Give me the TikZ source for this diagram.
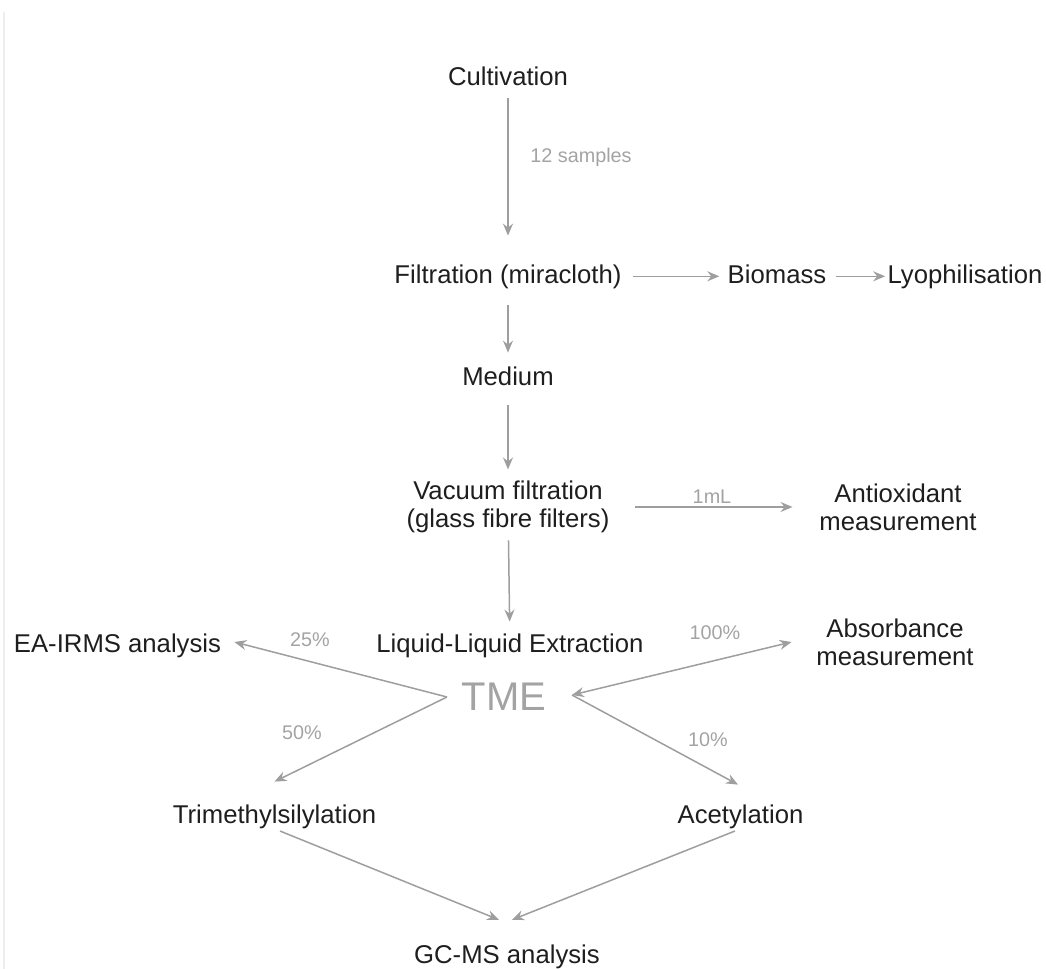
\documentclass[tikz,border=0pt]{standalone}
\usepackage{fontspec}
\setmainfont{Liberation Sans}
\usepackage{tikz}
\usetikzlibrary{arrows.meta}
\definecolor{flow_grey}{RGB}{158, 158, 158}
\definecolor{label_grey}{RGB}{163, 163, 163}
\definecolor{step_ink}{RGB}{30, 30, 30}
\tikzstyle{st}=[text=step_ink,font=\fontsize{12.85}{14}\selectfont,inner sep=0pt,
  text height=9.4pt,text depth=2.7pt]
\tikzstyle{st2}=[text=step_ink,font=\fontsize{12.85}{14}\selectfont,inner sep=0pt,
  align=center]
\tikzstyle{pct}=[text=label_grey,font=\fontsize{9.9}{12}\selectfont,inner sep=0pt]
\tikzstyle{tme}=[text=label_grey,font=\fontsize{20}{24}\selectfont,inner sep=0pt,
  anchor=base]
\tikzstyle{flow}=[draw=flow_grey,line width=0.75pt,
  -{Stealth[length=6pt,width=5pt,inset=2pt]}]
\tikzstyle{flow2}=[draw=flow_grey,line width=0.75pt,
  {Stealth[length=6pt,width=5pt,inset=2pt]}-{Stealth[length=6pt,width=5pt,inset=2pt]}]
\tikzstyle{none}=[inner sep=0pt]

\begin{document}
\begin{tikzpicture}[x=0.5pt,y=-0.5pt]
            \useasboundingbox (0,0) rectangle (1046,969);
            \draw [draw=black!7, line width=1pt] (4,12) -- (4,969);
            \node [style=st] (0) at (508, 78.3) {Cultivation};
            \node [style=st] (1) at (508, 276.3) {Filtration (miracloth)};
            \node [style=st] (2) at (777, 276.3) {Biomass};
            \node [style=st] (3) at (965, 276.3) {Lyophilisation};
            \node [style=st] (4) at (508, 378.8) {Medium};
            \node [style=st2] (5) at (508, 507) {Vacuum filtration\\(glass fibre filters)};
            \node [style=st2] (6) at (898, 507) {Antioxidant\\measurement};
            \node [style=st] (7) at (510, 645.3) {Liquid-Liquid Extraction};
            \node [style=tme] (8) at (504, 710) {TME};
            \node [style=st] (9) at (117.5, 646) {EA-IRMS analysis};
            \node [style=st2] (10) at (895, 642) {Absorbance\\measurement};
            \node [style=st] (11) at (274.5, 816.3) {Trimethylsilylation};
            \node [style=st] (12) at (740.5, 816.3) {Acetylation};
            \node [style=st] (13) at (507, 956.3) {GC-MS analysis};
            \node [style=none] (14) at (447, 697) {};
            \node [style=none] (15) at (572, 695) {};
            \node [style=pct] (16) at (581, 157) {12 samples};
            \node [style=pct, anchor=base] (17) at (712, 503) {1mL};
            \node [style=pct] (18) at (310, 640) {25\%};
            \node [style=pct] (19) at (715, 633) {100\%};
            \node [style=pct] (20) at (302, 733) {50\%};
            \node [style=pct] (21) at (708, 740) {10\%};
            \draw [style=flow, shorten <=3.8pt, shorten >=14.1pt] (0) to (1);
            \draw [style=flow, shorten <=5.5pt, shorten >=4pt] (1) to (2);
            \draw [style=flow, shorten <=4.5pt, shorten >=1pt] (2) to (3);
            \draw [style=flow, shorten <=8.3pt, shorten >=6.85pt] (1) to (4);
            \draw [style=flow, shorten <=7pt, shorten >=5.6pt] (4) to (5);
            \draw [style=flow, shorten <=12.5pt, shorten >=13.25pt] (5) to (6);
            \draw [style=flow, shorten <=3.5pt, shorten >=5.6pt] (5) to (7);
            \draw [style=flow] (14.center) to ([xshift=6.5pt,yshift=2pt]9.east);
            \draw [style=flow] (14.center) to ([yshift=11.1pt]11.north);
            \draw [style=flow2] (15.center) to ([xshift=-12.25pt]10.west);
            \draw [style=flow] (15.center) to ([xshift=-1.25pt,yshift=9.6pt]12.north);
            \draw [style=flow, shorten <=3pt] (11.south) to ([xshift=-4pt,yshift=12pt]13.north);
            \draw [style=flow, shorten <=3pt] (12.south) to ([xshift=2.5pt,yshift=12pt]13.north);
\end{tikzpicture}
\end{document}
